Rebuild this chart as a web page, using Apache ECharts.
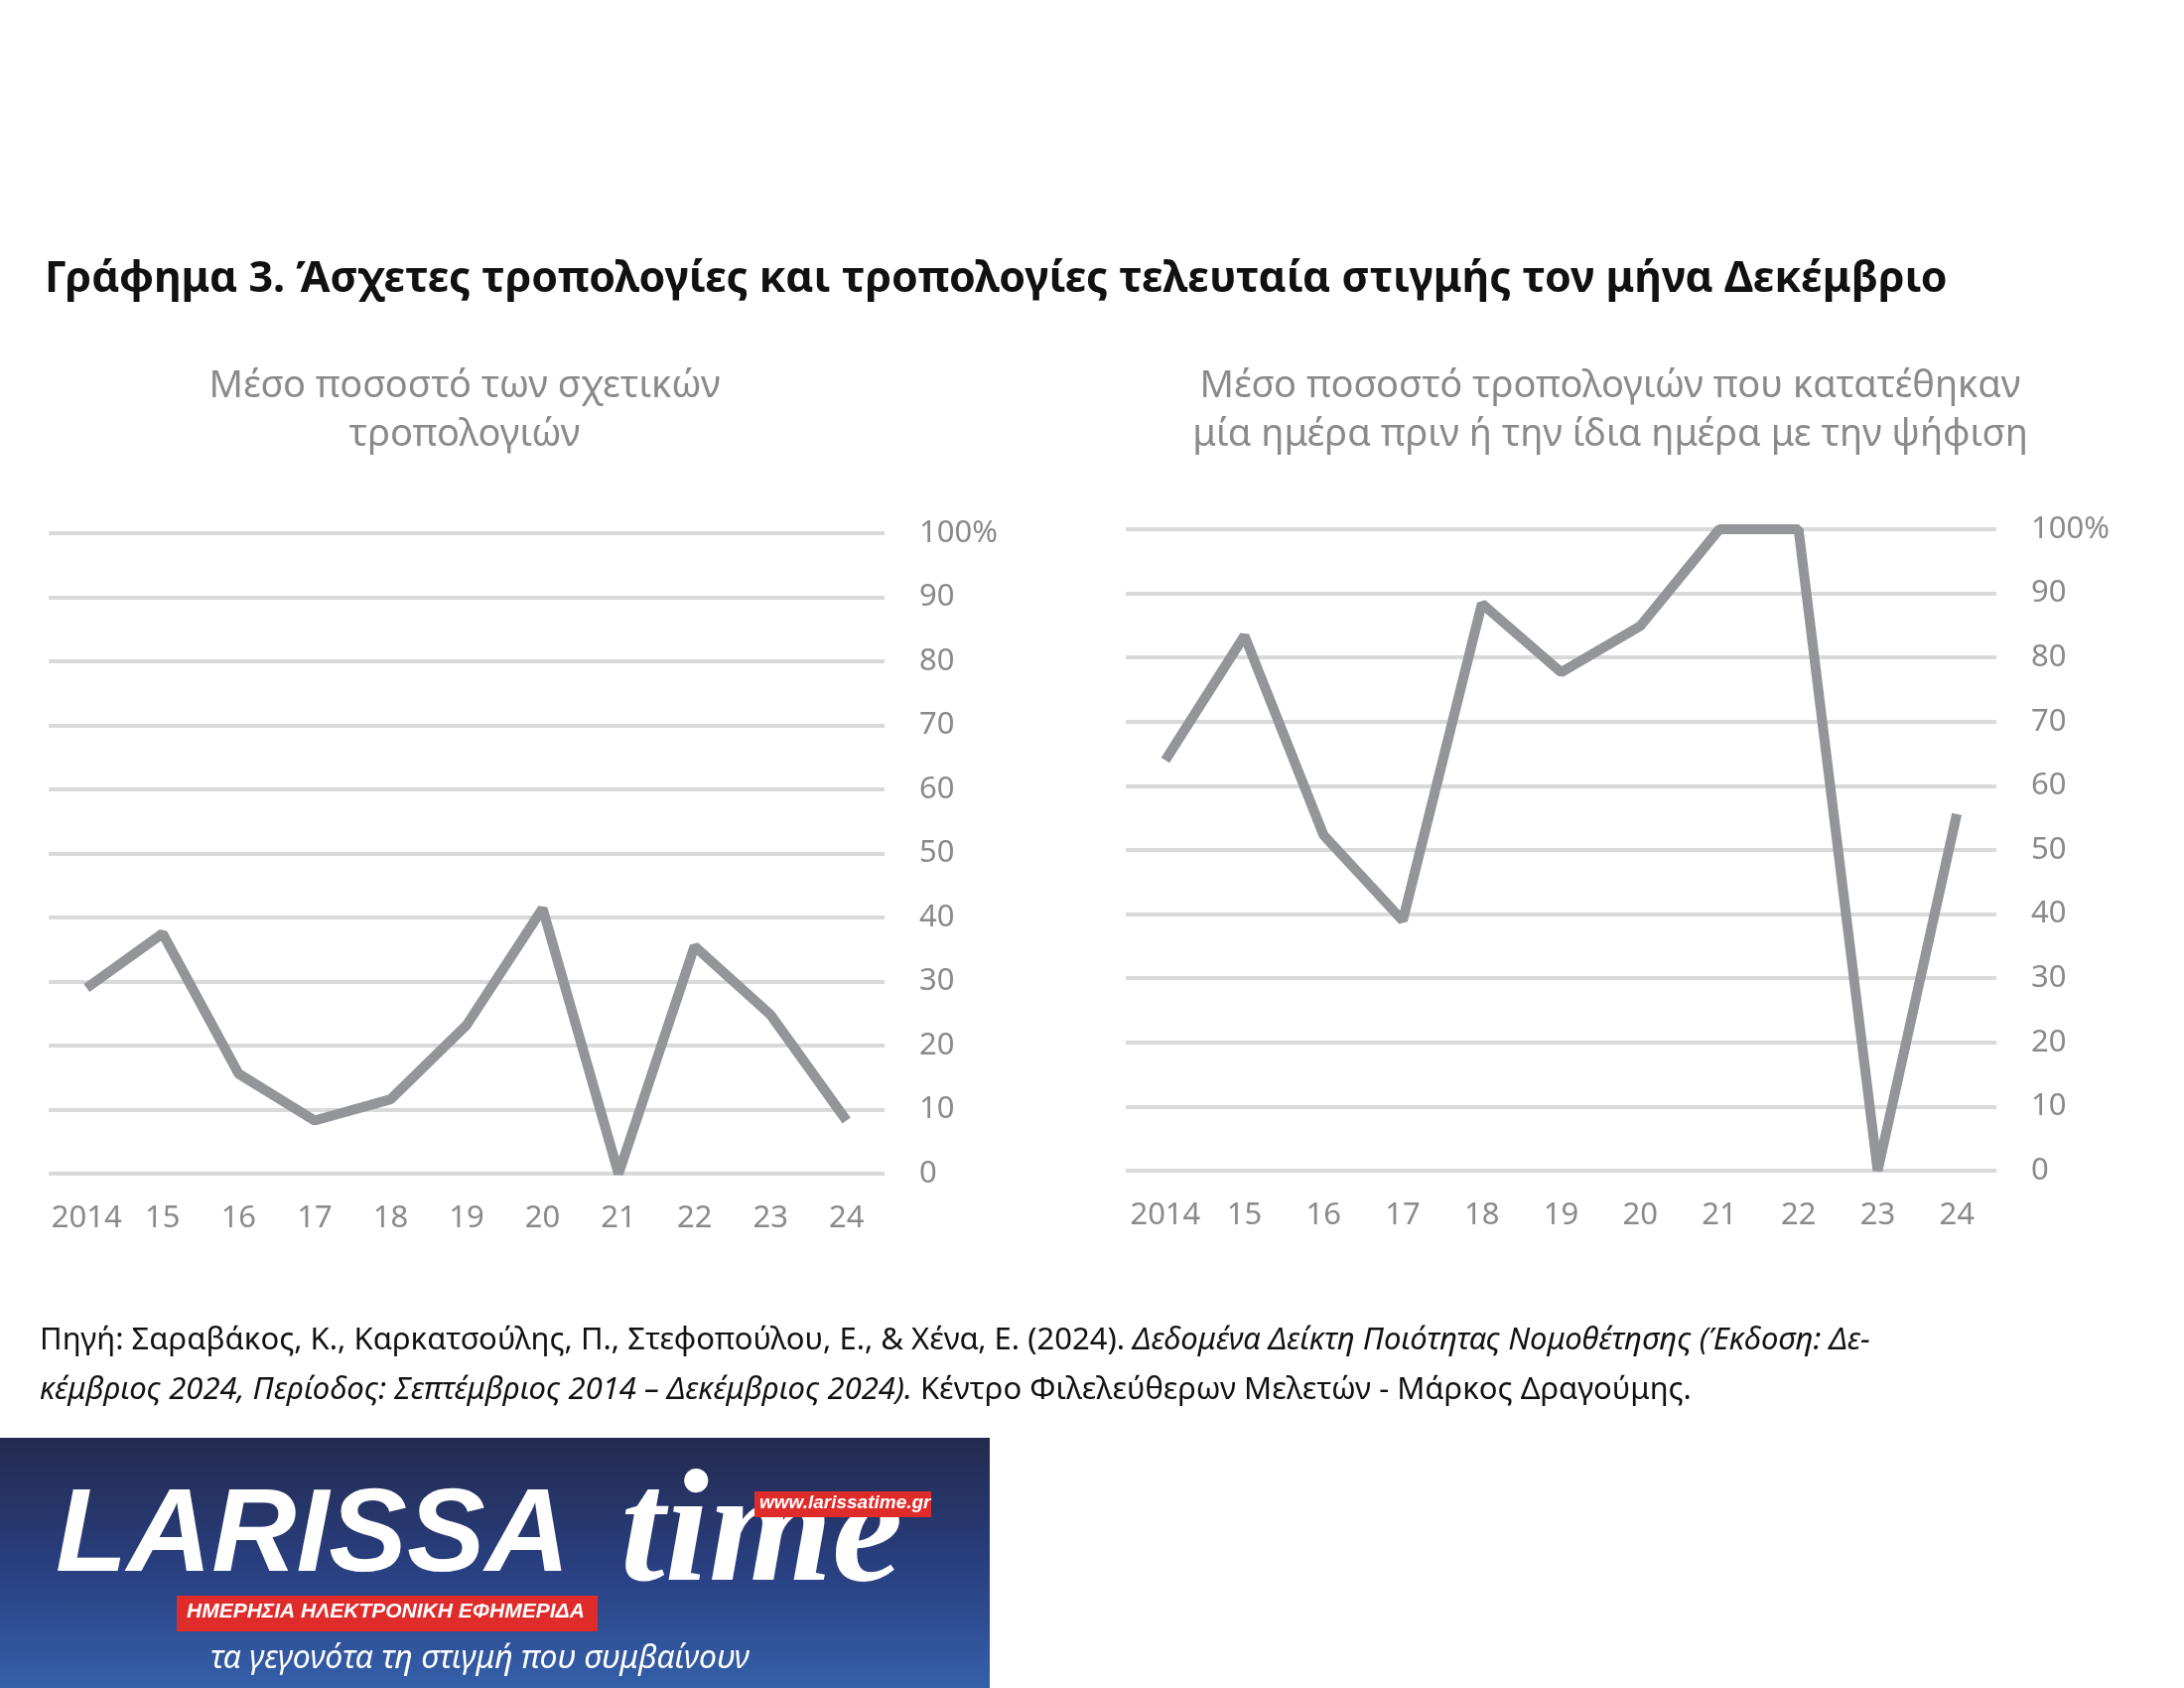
<!DOCTYPE html>
<html><head><meta charset="utf-8">
<script src="https://cdn.jsdelivr.net/npm/echarts@6/dist/echarts.min.js"></script>
<style>html,body{margin:0;padding:0;background:#fff}#c{width:2200px;height:1700px}</style>
</head><body><div id="c"></div>
<script>
const categories = ['2014','15','16','17','18','19','20','21','22','23','24'];
const leftValues = [29, 37.5, 15.6, 8.3, 11.6, 23.2, 41.4, 0, 35.5, 24.8, 8.3];
const rightValues = [64, 83.4, 52.3, 39, 88.4, 77.7, 84.9, 100, 100, 0, 55.6];
const leftTitle = 'Μέσο ποσοστό των σχετικών\nτροπολογιών';
const rightTitle = 'Μέσο ποσοστό τροπολογιών που κατατέθηκαν\nμία ημέρα πριν ή την ίδια ημέρα με την ψήφιση';
const mainTitle = 'Γράφημα 3. Άσχετες τροπολογίες και τροπολογίες τελευταία στιγμής τον μήνα Δεκέμβριο';

const F = 'Noto Sans';
const gray = '#939598';
function xAxis(i){return {type:'category',gridIndex:i,data:categories,boundaryGap:true,
  axisLine:{show:false},axisTick:{show:false},
  axisLabel:{color:'#8a8a8d',fontSize:31,fontFamily:F,margin:30,interval:0}};}
function yAxis(i){return {type:'value',gridIndex:i,position:'right',min:0,max:100,interval:10,
  axisLine:{show:false},axisTick:{show:false},
  splitLine:{lineStyle:{color:'#d9d9d9',width:4}},
  axisLabel:{color:'#8a8a8d',fontSize:31,fontFamily:F,margin:35,formatter:v=>v===100?'100%':v}};}
const chart = echarts.init(document.getElementById('c'));
chart.setOption({
  animation:false,
  title:[
    {text:mainTitle,left:40,top:255,textStyle:{fontSize:43,fontWeight:'bold',color:'#111',fontFamily:F}},
    {text:leftTitle,left:463,textAlign:'center',top:360,textStyle:{fontSize:38,fontWeight:'normal',color:'#8a8a8d',fontFamily:F,lineHeight:49}},
    {text:rightTitle,left:1617,textAlign:'center',top:360,textStyle:{fontSize:38,fontWeight:'normal',color:'#8a8a8d',fontFamily:F,lineHeight:49}}
  ],
  grid:[{left:49,top:537,width:842,height:645},{left:1134,top:533,width:877,height:646}],
  xAxis:[xAxis(0),xAxis(1)],
  yAxis:[yAxis(0),yAxis(1)],
  series:[
    {type:'line',xAxisIndex:0,yAxisIndex:0,data:leftValues,showSymbol:false,lineStyle:{color:gray,width:10}},
    {type:'line',xAxisIndex:1,yAxisIndex:1,data:rightValues,showSymbol:false,lineStyle:{color:gray,width:10}}
  ],
  graphic:[
    {type:'text',left:40,top:1335,style:{fontFamily:F,fontSize:31,fill:'#111',
      text:'{n|Πηγή: Σαραβάκος, Κ., Καρκατσούλης, Π., Στεφοπούλου, Ε., & Χένα, Ε. (2024). }{i|Δεδομένα Δείκτη Ποιότητας Νομοθέτησης (Έκδοση: Δε-}\n{i|κέμβριος 2024, Περίοδος: Σεπτέμβριος 2014 – Δεκέμβριος 2024).}{n| Κέντρο Φιλελεύθερων Μελετών - Μάρκος Δραγούμης.}',
      rich:{n:{fontSize:31,fontFamily:F,fill:'#111',lineHeight:50},i:{fontSize:31,fontFamily:F,fontStyle:'italic',fill:'#111',lineHeight:50}}}},
    {type:'rect',shape:{x:0,y:1448,width:997,height:260},
      style:{fill:new echarts.graphic.LinearGradient(0,0,0,1,[{offset:0,color:'#232a4e'},{offset:0.5,color:'#293f80'},{offset:1,color:'#3562ad'}])}},
    {type:'text',x:56,y:1490,style:{text:'LARISSA',fontFamily:'Liberation Sans',fontWeight:'bold',fontStyle:'italic',fontSize:118,fill:'#fff'}},
    {type:'text',x:625,y:1470,style:{text:'time',fontFamily:'Liberation Serif',fontWeight:'bold',fontStyle:'italic',fontSize:160,fill:'#fff'}},
    {type:'rect',shape:{x:760,y:1502,width:178,height:26},style:{fill:'#e02b2b'}},
    {type:'text',x:765,y:1504,style:{text:'www.larissatime.gr',fontFamily:'Liberation Sans',fontWeight:'bold',fontStyle:'italic',fontSize:19,fill:'#fff'}},
    {type:'rect',shape:{x:178,y:1607,width:424,height:36},style:{fill:'#e02b2b'}},
    {type:'text',x:188,y:1613,style:{text:'ΗΜΕΡΗΣΙΑ ΗΛΕΚΤΡΟΝΙΚΗ ΕΦΗΜΕΡΙΔΑ',fontFamily:'Liberation Sans',fontWeight:'bold',fontStyle:'italic',fontSize:21,fill:'#fff'}},
    {type:'text',x:212,y:1655,style:{text:'τα γεγονότα τη στιγμή που συμβαίνουν',fontFamily:F,fontStyle:'italic',fontSize:32,fill:'#fff'}}
  ]
});
</script></body></html>
